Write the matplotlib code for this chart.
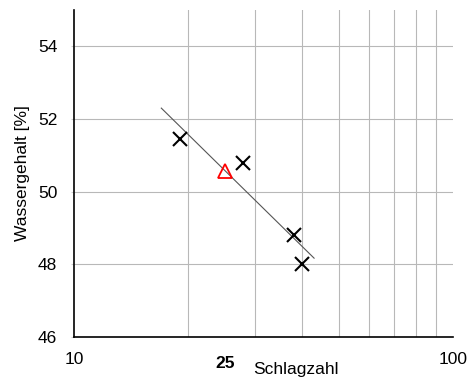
import numpy as np
import matplotlib
matplotlib.use('Agg')
import matplotlib.pyplot as plt

plt.rcParams['font.family'] = ['Liberation Sans', 'DejaVu Sans']

# Versuchspunkte (Schlagzahl, Wassergehalt)
schlaege = [19, 28, 38, 40]
wasser = [51.45, 50.8, 48.8, 48.02]

# Fliessgrenze bei 25 Schlaegen
wl_x = [25]
wl_y = [50.57]

# Ausgleichsgerade
fit_x = [17, 43]
fit_y = [52.3, 48.17]

yticks = [46, 48, 50, 52, 54]
xticks = [10, 25, 100]
xticklabels = ['10', '25', '100']
xgrid = [20, 30, 40, 50, 60, 70, 80, 90, 100]

fig = plt.figure(figsize=(4.68, 3.78), dpi=100)
ax = fig.add_axes([0.158, 0.1085, 0.81, 0.865])

ax.set_xscale('log')
ax.set_xlim(10, 100)
ax.set_ylim(46, 55)

ax.plot(fit_x, fit_y, color='#555555', lw=0.8, zorder=3)
ax.plot(schlaege, wasser, 'x', color='black', ms=10, mew=1.5, zorder=4)
ax.plot(wl_x, wl_y, '^', mfc='none', mec='red', ms=10.5, mew=1.3, zorder=5)

ax.set_xticks(xticks)
ax.set_xticklabels(xticklabels, fontsize=12.5)
ax.set_xticks(xgrid, minor=True)
ax.xaxis.set_minor_formatter(matplotlib.ticker.NullFormatter())
ax.tick_params(axis='x', which='both', length=0, pad=11)
for lab in ax.get_xticklabels():
    if lab.get_text() == '25':
        lab.set_fontweight('bold')
        lab.set_y(-0.01)

ax.set_yticks(yticks)
ax.tick_params(axis='y', labelsize=12.5, length=2, color='#cccccc', pad=10)

ax.grid(True, axis='x', which='minor', color='#b8b8b8', lw=0.8)
ax.grid(True, axis='y', which='major', color='#b8b8b8', lw=0.8)
ax.set_axisbelow(True)

for s in ['top', 'right']:
    ax.spines[s].set_visible(False)
for s in ['left', 'bottom']:
    ax.spines[s].set_linewidth(1.2)

ax.set_ylabel('Wassergehalt [%]', fontsize=12.5, labelpad=6)
ax.set_xlabel('Schlagzahl', fontsize=12.5)
ax.xaxis.set_label_coords(0.585, -0.075)

fig.savefig('out.png', dpi=100)
